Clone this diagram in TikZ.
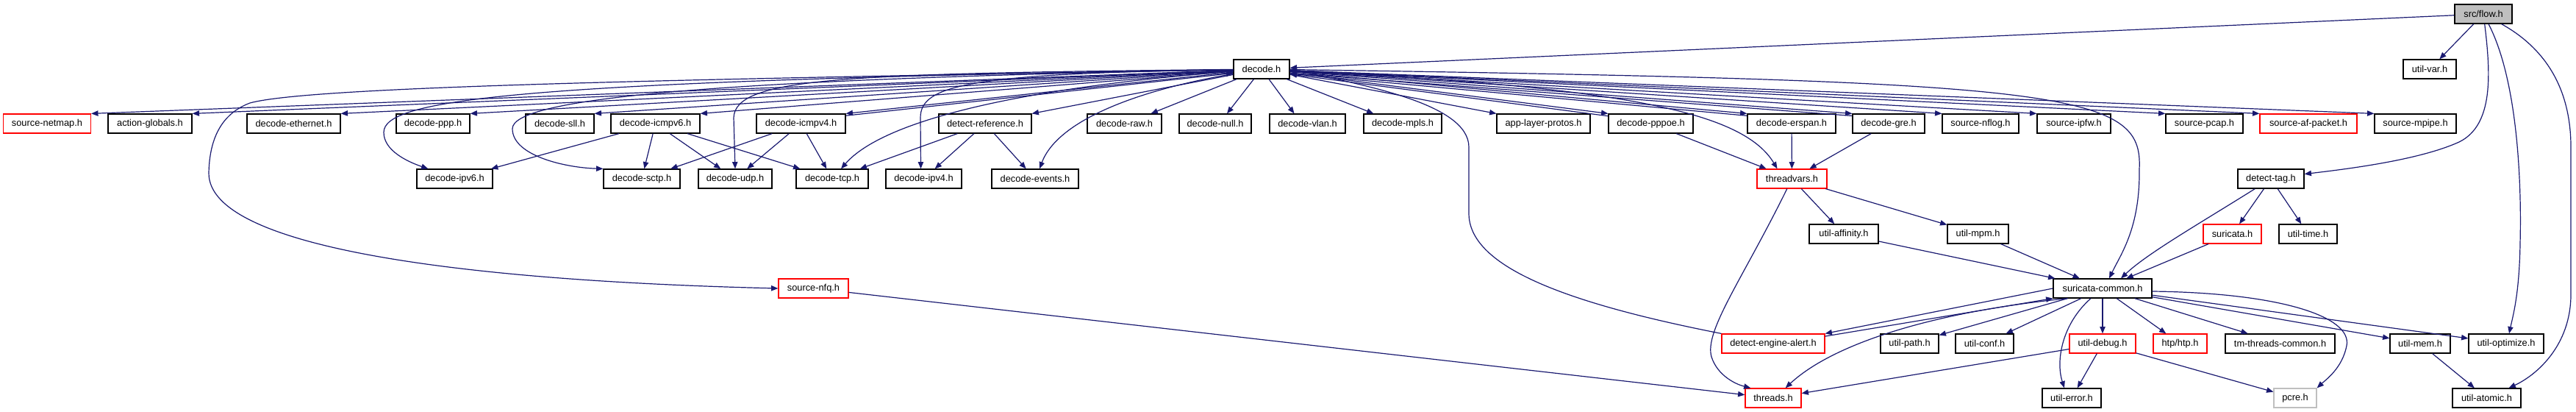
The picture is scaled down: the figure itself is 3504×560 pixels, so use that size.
\documentclass[tikz,border=0pt]{standalone}
\usepackage{fontspec}
\setmainfont{Liberation Sans}
\usepackage{tikz}
\usetikzlibrary{arrows.meta,calc}

\definecolor{edgeblue}{HTML}{191970}
\definecolor{rootgray}{HTML}{BFBFBF}

\begin{document}
\begin{tikzpicture}[
    x=0.75pt, y=-0.75pt,
    box/.style={rectangle, draw=black, line width=0.9pt, fill=white, minimum height=19.5pt, inner sep=0pt, font=\fontsize{9.6}{11}\selectfont},
    redbox/.style={box, draw=red},
    graybox/.style={box, draw=rootgray},
    rootbox/.style={box, fill=rootgray},
    wd/.style={minimum width=#1*0.75pt},
    arrow/.style={-{Triangle[length=7pt,width=5.5pt]}, draw=edgeblue, line width=0.9pt}
]
\useasboundingbox (0,0) rectangle (3504,560);

% -------- Top --------
\node[rootbox, wd=78] (flowh) at (3378,19) {src/flow.h};
\node[box, wd=76] (dec) at (1716,94) {decode.h};
\node[box, wd=72] (utilvar) at (3305,94) {util-var.h};

% -------- Row 1 --------
\node[redbox, wd=119] (netmap) at (64,168) {source-netmap.h};
\node[box, wd=114] (actglob) at (204,168) {action-globals.h};
\node[box, wd=127] (ethernet) at (399.5,168) {decode-ethernet.h};
\node[box, wd=100] (ppp) at (589,168) {decode-ppp.h};
\node[box, wd=93] (sll) at (761.5,168) {decode-sll.h};
\node[box, wd=121] (icmpv6) at (891.5,168) {decode-icmpv6.h};
\node[box, wd=121] (icmpv4) at (1089.5,168) {decode-icmpv4.h};
\node[box, wd=126] (detref) at (1340,168) {detect-reference.h};
\node[box, wd=101] (raw) at (1529.5,168) {decode-raw.h};
\node[box, wd=98] (null) at (1653,168) {decode-null.h};
\node[box, wd=103] (vlan) at (1778.5,168) {decode-vlan.h};
\node[box, wd=106] (mpls) at (1908,168) {decode-mpls.h};
\node[box, wd=127] (applayer) at (2099.5,168) {app-layer-protos.h};
\node[box, wd=115] (pppoe) at (2245.5,168) {decode-pppoe.h};
\node[box, wd=120] (erspan) at (2437,168) {decode-erspan.h};
\node[box, wd=98] (gre) at (2569,168) {decode-gre.h};
\node[box, wd=104] (nflog) at (2694,168) {source-nflog.h};
\node[box, wd=100] (ipfw) at (2821,168) {source-ipfw.h};
\node[box, wd=105] (pcap) at (2998.5,168) {source-pcap.h};
\node[redbox, wd=132] (afpacket) at (3140,168) {source-af-packet.h};
\node[box, wd=111] (mpipe) at (3285.5,168) {source-mpipe.h};

% -------- Row 2 --------
\node[box, wd=103] (ipv6) at (618.5,243) {decode-ipv6.h};
\node[box, wd=104] (sctp) at (873,243) {decode-sctp.h};
\node[box, wd=100] (udp) at (1000,243) {decode-udp.h};
\node[box, wd=98] (tcp) at (1132,243) {decode-tcp.h};
\node[box, wd=103] (ipv4) at (1256.5,243) {decode-ipv4.h};
\node[box, wd=118] (events) at (1408,243) {decode-events.h};
\node[redbox, wd=95] (threadvars) at (2437.5,243) {threadvars.h};
\node[box, wd=90] (detecttag) at (3089,243) {detect-tag.h};

% -------- Row 3 --------
\node[box, wd=94] (affinity) at (2508,318) {util-affinity.h};
\node[box, wd=83] (mpm) at (2690.5,318) {util-mpm.h};
\node[redbox, wd=79] (suricata) at (3036.5,318) {suricata.h};
\node[box, wd=79] (utiltime) at (3139.5,318) {util-time.h};
\node[redbox, wd=95] (nfq) at (1106.5,392) {source-nfq.h};
\node[box, wd=134] (common) at (2860,392) {suricata-common.h};

% -------- Row 4 --------
\node[redbox, wd=140] (alert) at (2412,467) {detect-engine-alert.h};
\node[box, wd=79] (path) at (2597.5,467) {util-path.h};
\node[box, wd=79] (conf) at (2699.5,467) {util-conf.h};
\node[redbox, wd=90] (debug) at (2860,467) {util-debug.h};
\node[redbox, wd=73] (htp) at (2965.5,467) {htp/htp.h};
\node[box, wd=149] (tmthreads) at (3101.5,467) {tm-threads-common.h};
\node[box, wd=82] (mem) at (3292,467) {util-mem.h};
\node[box, wd=102] (optimize) at (3409,467) {util-optimize.h};

% -------- Row 5 --------
\node[redbox, wd=76] (threads) at (2412,541) {threads.h};
\node[box, wd=80] (error) at (2818,541) {util-error.h};
\node[graybox, wd=58] (pcre) at (3122,541) {pcre.h};
\node[box, wd=93] (atomic) at (3382.5,541) {util-atomic.h};

% -------- Arrows --------
% src/flow.h
\draw[arrow] (flowh) -- (dec);
\draw[arrow] (flowh) -- (utilvar);
\draw[arrow] (flowh) .. controls (3388,100) and (3392,170) .. (3345,193) .. controls (3290,218) and (3190,230) .. (detecttag.8);
\draw[arrow] (flowh) .. controls (3425,110) and (3430,250) .. (3428,330) .. controls (3427,400) and (3418,430) .. ($(optimize.north)+(4,0)$);
\draw[arrow] (flowh) .. controls (3470,70) and (3497,130) .. (3497,200) -- (3497,400) .. controls (3497,470) and (3450,510) .. ($(atomic.north)+(30,0)$);

% decode.h, left side
\draw[arrow] (dec) -- (netmap.north east);
\draw[arrow] (dec) -- (actglob.north east);
\draw[arrow] (dec) -- (ethernet.north east);
\draw[arrow] (dec) -- (ppp.north east);
\draw[arrow] (dec) -- (sll.north east);
\draw[arrow] (dec) -- (icmpv6.north east);
\draw[arrow] (dec) -- (icmpv4.north east);
\draw[arrow] (icmpv4.10) -- (dec.188);
\draw[arrow] (dec) -- (detref.north east);
\draw[arrow] (dec) .. controls (900,108) and (420,118) .. (340,140) .. controls (300,155) and (285,190) .. (284,235) .. controls (283,340) and (650,382) .. (nfq.west);
\draw[arrow] (dec) .. controls (700,110) and (522,135) .. (522,180) .. controls (522,205) and (555,220) .. ($(ipv6.north west)+(16,0)$);
\draw[arrow] (dec) .. controls (950,108) and (697,135) .. (697,175) .. controls (697,212) and (770,228) .. (sctp.north west);
\draw[arrow] (dec) .. controls (1150,100) and (1000,105) .. (998,160) -- (udp.north);
\draw[arrow] (dec) .. controls (1380,120) and (1200,165) .. ($(tcp.north)+(12,0)$);
\draw[arrow] (dec) .. controls (1320,100) and (1252,115) .. (1252,160) -- ($(ipv4.north)+(-4,0)$);
\draw[arrow] (dec) .. controls (1560,120) and (1440,160) .. ($(events.north)+(6,0)$);

% decode.h, right side
\draw[arrow] (dec) -- ($(raw.north)+(36,0)$);
\draw[arrow] (dec) -- ($(null.north)+(16,0)$);
\draw[arrow] (dec) -- ($(vlan.north)+(-18,0)$);
\draw[arrow] (dec) -- ($(mpls.north west)+(14,0)$);
\draw[arrow] (dec) -- (applayer.north west);
\draw[arrow] (dec) -- (pppoe.north west);
\draw[arrow] (pppoe.170) -- (dec.-10);
\draw[arrow] (dec) -- (erspan.north west);
\draw[arrow] (erspan.170) -- (dec.-9);
\draw[arrow] (dec) -- (gre.north west);
\draw[arrow] (gre.168) -- (dec.-8);
\draw[arrow] (dec) -- (nflog.north west);
\draw[arrow] (dec) -- (ipfw.north west);
\draw[arrow] (dec) -- (pcap.north west);
\draw[arrow] (dec) -- (afpacket.north west);
\draw[arrow] (dec) -- (mpipe.north west);
\draw[arrow] (dec) .. controls (2200,118) and (2370,150) .. ($(threadvars.north)+(-20,0)$);
\draw[arrow] (dec) .. controls (2820,110) and (2915,125) .. (2910,230) .. controls (2911,310) and (2885,345) .. ($(common.north)+(9,0)$);
\draw[arrow] (alert.north west) .. controls (2120,410) and (1998,360) .. (1998,290) -- (1998,200) .. controls (1998,140) and (1850,115) .. (dec.east);

% row 1 to row 2
\draw[arrow] (icmpv6) -- (ipv6);
\draw[arrow] (icmpv6) -- (sctp);
\draw[arrow] (icmpv6) -- (udp);
\draw[arrow] (icmpv6) -- (tcp);
\draw[arrow] (icmpv4) -- (sctp);
\draw[arrow] (icmpv4) -- (udp);
\draw[arrow] (icmpv4) -- (tcp);
\draw[arrow] (detref) -- (tcp);
\draw[arrow] (detref) -- (ipv4);
\draw[arrow] (detref) -- (events);
\draw[arrow] (pppoe) -- (threadvars);
\draw[arrow] (erspan) -- (threadvars);
\draw[arrow] (gre) -- (threadvars);

% threadvars.h and detect-tag.h
\draw[arrow] (threadvars) -- (affinity);
\draw[arrow] (threadvars) -- (mpm);
\draw[arrow] (threadvars) .. controls (2370,380) and (2318,450) .. (2328,485) .. controls (2336,510) and (2360,522) .. ($(threads.north west)+(8,0)$);
\draw[arrow] (affinity) -- (common);
\draw[arrow] (mpm) -- (common);
\draw[arrow] (detecttag) -- (suricata);
\draw[arrow] (detecttag) -- (utiltime);
\draw[arrow] (detecttag) .. controls (2990,305) and (2920,345) .. ($(common.north)+(25,0)$);
\draw[arrow] (suricata) -- (common);
\draw[arrow] (nfq) -- (threads);

% suricata-common.h
\draw[arrow] (common.west) -- (alert.north east);
\draw[arrow] (alert.8) -- (common.south west);
\draw[arrow] ($(common.south west)+(20,0)$) .. controls (2620,425) and (2490,470) .. ($(threads.north east)+(-22,0)$);
\draw[arrow] (common) -- (path);
\draw[arrow] (common) -- (conf);
\draw[arrow] ($(common.south)+(-16,0)$) .. controls (2805,440) and (2796,490) .. ($(error.north)+(-10,0)$);
\draw[arrow] (common) -- (debug);
\draw[arrow] (common) -- (htp);
\draw[arrow] (common) -- (tmthreads);
\draw[arrow] (common) -- (mem);
\draw[arrow] (common) -- (optimize);
\draw[arrow] ($(common.east)+(0,4)$) .. controls (3100,398) and (3200,430) .. (3192,470) .. controls (3186,500) and (3165,515) .. (pcre.north east);

% lowest row
\draw[arrow] (debug) -- (threads);
\draw[arrow] (debug) -- (error);
\draw[arrow] (debug) -- (pcre);
\draw[arrow] (mem) -- (atomic);

\end{tikzpicture}
\end{document}
